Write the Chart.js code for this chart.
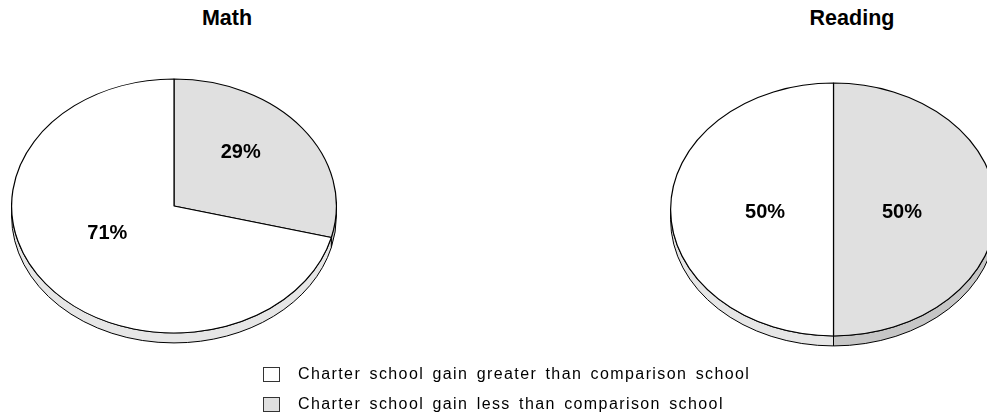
<!DOCTYPE html>
<html>
<head>
<meta charset="utf-8">
<script src="https://cdn.jsdelivr.net/npm/chart.js@4/dist/chart.umd.min.js"></script>
<style>
  html, body { margin: 0; padding: 0; background: #fff; }
  body { width: 987px; height: 416px; overflow: hidden; position: relative;
         font-family: "Liberation Sans", Arial, Helvetica, sans-serif; color: #000; }
  .title { position: absolute; top: 8px; font-weight: bold; font-size: 21.5px; line-height: 1;
           transform: translateX(-50%); white-space: nowrap; }
  canvas { position: absolute; }
  .legend { position: absolute; left: 263px; top: 367px; }
  .item { position: absolute; left: 0; white-space: nowrap; }
  .box { position: absolute; left: 0; top: 0; width: 15px; height: 13px; border: 1px solid #333; box-sizing: content-box; }
  .lbl { position: absolute; left: 35px; top: -1px; font-size: 16px; line-height: 16px;
         letter-spacing: 1.4px; word-spacing: 2.5px; }
</style>
</head>
<body>
<div class="title" id="t0" style="left:227px"></div>
<div class="title" id="t1" style="left:852px"></div>
<canvas id="pieMath" width="326" height="326" style="left:11px; top:43px"></canvas>
<canvas id="pieReading" width="327" height="327" style="left:670px; top:46px"></canvas>
<div class="legend" id="legend"></div>

<script>
// ---- data ----
const categories = [
  'Charter school gain greater than comparison school',
  'Charter school gain less than comparison school'
];
const subjects = ['Math', 'Reading'];
const mathShares = [71, 29];      // percent of schools, per category
const readingShares = [50, 50];

// ---- styling ----
const faceColors = ['#ffffff', '#e0e0e0'];
const sideColors = ['#e6e6e6', '#c6c6c6'];

// Portions of an angular range that face the viewer (lower half of the ellipse)
function frontSegments(a, b) {
  const out = [];
  for (let k = -2; k <= 2; k++) {
    const lo = Math.max(a, 2 * Math.PI * k);
    const hi = Math.min(b, 2 * Math.PI * k + Math.PI);
    if (hi > lo + 1e-6) out.push([lo, hi]);
  }
  return out;
}

// Tilts the pie into an ellipse, adds a thin extruded rim and writes the percentages
const tiltPlugin = {
  id: 'tilt',
  beforeDatasetsDraw(chart, args, opts) {
    const ctx = chart.ctx;
    const arcs = chart.getDatasetMeta(0).data;
    const { x: cx, y: cy, outerRadius: r } = arcs[0];
    const rx = r, ry = r * opts.squash, d = opts.depth;
    const sides = chart.data.datasets[0].sideColor;
    ctx.save();
    ctx.lineWidth = 1;
    ctx.strokeStyle = '#000';
    arcs.forEach((arc, i) => {
      frontSegments(arc.startAngle, arc.endAngle).forEach(([a, b]) => {
        ctx.beginPath();
        ctx.ellipse(cx, cy, rx, ry, 0, a, b, false);
        ctx.lineTo(cx + rx * Math.cos(b), cy + ry * Math.sin(b) + d);
        ctx.ellipse(cx, cy + d, rx, ry, 0, b, a, true);
        ctx.closePath();
        ctx.fillStyle = sides[i];
        ctx.fill();
        ctx.stroke();
      });
    });
    ctx.restore();
    ctx.save();
    ctx.translate(cx, cy);
    ctx.scale(1, opts.squash);
    ctx.translate(-cx, -cy);
  },
  afterDatasetsDraw(chart, args, opts) {
    const ctx = chart.ctx;
    ctx.restore();
    const arcs = chart.getDatasetMeta(0).data;
    const values = chart.data.datasets[0].data;
    ctx.save();
    ctx.font = 'bold 20px "Liberation Sans", Arial, sans-serif';
    ctx.fillStyle = '#000';
    ctx.textAlign = 'center';
    ctx.textBaseline = 'middle';
    arcs.forEach((arc, i) => {
      const mid = (arc.startAngle + arc.endAngle) / 2;
      const rr = arc.outerRadius * opts.labelRadius;
      const x = arc.x + rr * Math.cos(mid);
      const y = arc.y + rr * opts.squash * Math.sin(mid) + opts.labelShiftY;
      ctx.fillText(values[i] + '%', x, y);
    });
    ctx.restore();
  }
};

function makePie(id, shares, tilt) {
  // slice order: "less" first, starting at twelve o'clock and running clockwise
  const order = [1, 0];
  return new Chart(document.getElementById(id), {
    type: 'pie',
    data: {
      labels: order.map(i => categories[i]),
      datasets: [{
        data: order.map(i => shares[i]),
        backgroundColor: order.map(i => faceColors[i]),
        sideColor: order.map(i => sideColors[i]),
        borderColor: '#000',
        borderWidth: 1.2
      }]
    },
    options: {
      responsive: false,
      animation: false,
      events: [],
      layout: { padding: 0 },
      plugins: {
        legend: { display: false },
        title: { display: false },
        tooltip: { enabled: false },
        tilt
      }
    },
    plugins: [tiltPlugin]
  });
}

makePie('pieMath', mathShares, { squash: 127 / 162.5, depth: 10, labelRadius: 0.52, labelShiftY: -13 });
makePie('pieReading', readingShares, { squash: 126.5 / 163, depth: 10, labelRadius: 0.42, labelShiftY: 3 });

document.getElementById('t0').textContent = subjects[0];
document.getElementById('t1').textContent = subjects[1];

const legend = document.getElementById('legend');
categories.forEach((c, i) => {
  const item = document.createElement('div');
  item.className = 'item';
  item.style.top = (i * 29.5) + 'px';
  const box = document.createElement('div');
  box.className = 'box';
  box.style.background = faceColors[i];
  const lbl = document.createElement('div');
  lbl.className = 'lbl';
  lbl.textContent = c;
  item.appendChild(box);
  item.appendChild(lbl);
  legend.appendChild(item);
});
</script>
</body>
</html>
